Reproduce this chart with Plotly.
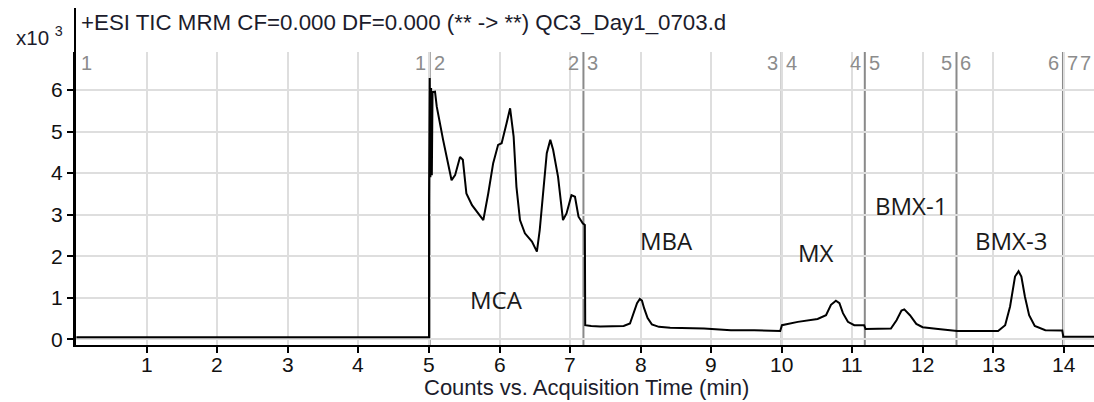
import plotly.graph_objects as go

# ---- data (counts in thousands, time in min) ----
seg1_time = [0.0, 5.0]
seg1_counts = [0.05, 0.05]

seg2_time = [5.0, 5.01, 5.02, 5.03, 5.04, 5.05, 5.085, 5.11, 5.20, 5.25, 5.32, 5.37, 5.44, 5.48,
             5.53, 5.61, 5.70, 5.77, 5.84, 5.91, 5.98, 6.03, 6.10, 6.15, 6.20, 6.24, 6.29, 6.36,
             6.46, 6.53, 6.57, 6.62, 6.67, 6.72, 6.76, 6.83, 6.90, 6.95, 7.02, 7.07, 7.12, 7.18, 7.21]
seg2_counts = [3.35, 6.29, 3.90, 6.05, 3.95, 5.95, 5.96, 5.60, 4.80, 4.40, 3.83, 3.95, 4.39, 4.32,
               3.51, 3.23, 3.03, 2.87, 3.51, 4.24, 4.68, 4.72, 5.20, 5.56, 4.88, 3.67, 2.87, 2.55,
               2.35, 2.11, 2.63, 3.51, 4.48, 4.80, 4.56, 3.91, 2.87, 3.03, 3.47, 3.43, 2.95, 2.79, 2.75]

seg3_time = [7.215, 7.30, 7.43, 7.62, 7.76, 7.85, 7.90, 7.95, 7.99, 8.02, 8.05, 8.10, 8.16, 8.26,
             8.42, 8.90, 9.28, 9.61, 9.98]
seg3_counts = [0.34, 0.32, 0.31, 0.32, 0.32, 0.38, 0.63, 0.87, 0.97, 0.93, 0.75, 0.51, 0.36, 0.30,
               0.28, 0.26, 0.22, 0.22, 0.20]

seg4_time = [10.005, 10.23, 10.51, 10.63, 10.70, 10.77, 10.82, 10.87, 10.94, 11.03, 11.17]
seg4_counts = [0.34, 0.42, 0.49, 0.58, 0.83, 0.93, 0.87, 0.63, 0.42, 0.34, 0.34]

seg5_time = [11.19, 11.55, 11.63, 11.70, 11.74, 11.82, 11.91, 12.00, 12.22, 12.47]
seg5_counts = [0.25, 0.26, 0.46, 0.69, 0.72, 0.58, 0.37, 0.29, 0.25, 0.22]

seg6_time = [12.49, 13.07, 13.17, 13.24, 13.31, 13.36, 13.40, 13.45, 13.51, 13.59, 13.74, 13.98]
seg6_counts = [0.20, 0.20, 0.34, 0.79, 1.51, 1.64, 1.51, 1.03, 0.58, 0.32, 0.22, 0.21]

seg7_time = [13.995, 14.45]
seg7_counts = [0.06, 0.06]

segment_bounds = [5.01, 7.19, 10.0, 11.18, 12.48, 13.99]
segment_numbers = [1, 2, 3, 4, 5, 6, 7]

compound_names = ["MCA", "MBA", "MX", "BMX-1", "BMX-3"]
compound_time = [5.95, 8.37, 10.49, 11.83, 13.25]
compound_level = [0.95, 2.37, 2.08, 3.21, 2.37]

x_ticks = list(range(1, 15))
y_ticks = list(range(0, 7))

title_text = "+ESI TIC MRM CF=0.000 DF=0.000 (** -> **) QC3_Day1_0703.d"
x_title = "Counts vs. Acquisition Time (min)"

# ---- figure ----
time = seg1_time + seg2_time + seg3_time + seg4_time + seg5_time + seg6_time + seg7_time
counts = seg1_counts + seg2_counts + seg3_counts + seg4_counts + seg5_counts + seg6_counts + seg7_counts

W, H = 1094, 402
ml, mr, mt, mb = 75, 0, 52, 57
ph = H - mt - mb

fig = go.Figure()
fig.add_trace(go.Scatter(x=time, y=counts, mode="lines",
                         line=dict(color="black", width=2), hoverinfo="skip"))

shapes = []
for b in segment_bounds:
    shapes.append(dict(type="line", xref="x", yref="paper", x0=b, x1=b, y0=0, y1=1,
                       line=dict(color="#8a8a8a", width=2), layer="between"))
# y axis line extension up to the title line
shapes.append(dict(type="line", xref="paper", yref="paper", x0=0, x1=0, y0=0,
                   y1=(H - mb - 8) / ph, line=dict(color="black", width=2)))

ann = []
seg_font = dict(family="Liberation Sans", size=20, color="#8c8c8c")
label_y = (H - mb - 63) / ph
ann.append(dict(xref="paper", yref="paper", x=0, y=label_y, text=str(segment_numbers[0]),
                showarrow=False, xanchor="left", yanchor="middle", xshift=4, font=seg_font))
for i, b in enumerate(segment_bounds):
    ann.append(dict(xref="x", yref="paper", x=b, y=label_y, text=str(segment_numbers[i]),
                    showarrow=False, xanchor="right", yanchor="middle", xshift=-2, font=seg_font))
    ann.append(dict(xref="x", yref="paper", x=b, y=label_y, text=str(segment_numbers[i + 1]),
                    showarrow=False, xanchor="left", yanchor="middle", xshift=2, font=seg_font))
ann.append(dict(xref="paper", yref="paper", x=1, y=label_y, text=str(segment_numbers[-1]),
                showarrow=False, xanchor="right", yanchor="middle", xshift=-1, font=seg_font))

for name, t, v in zip(compound_names, compound_time, compound_level):
    ann.append(dict(xref="x", yref="y", x=t, y=v, text=name, showarrow=False,
                    xanchor="center", yanchor="middle",
                    font=dict(family="Open Sans", size=24, color="#1a1a1a")))

axis_font = dict(family="Liberation Sans", size=21, color="#111111")
# x tick labels placed just under the tick marks
for t in x_ticks:
    ann.append(dict(xref="x", yref="paper", x=t, y=(H - mb - 364) / ph, text=str(t),
                    showarrow=False, xanchor="center", yanchor="middle", borderpad=0,
                    font=axis_font))

ann.append(dict(xref="paper", yref="paper", x=(79 - ml) / (W - ml), y=(H - mb - 22) / ph,
                text=title_text, showarrow=False, xanchor="left", yanchor="middle",
                font=dict(family="Liberation Sans", size=22.3, color="#1c1c2c")))
ann.append(dict(xref="paper", yref="paper", x=(65 - ml) / (W - ml), y=(H - mb - 36) / ph,
                text="x10 <sup>3</sup>", showarrow=False, xanchor="right", yanchor="middle",
                font=dict(family="Liberation Sans", size=20.5, color="#1c1c2c")))
ann.append(dict(xref="paper", yref="paper", x=(586 - ml) / (W - ml), y=(H - mb - 387) / ph,
                text=x_title, showarrow=False, xanchor="center", yanchor="middle", borderpad=0,
                font=dict(family="Liberation Sans", size=22, color="#1c1c2c")))

fig.update_layout(
    width=W, height=H, margin=dict(l=ml, r=mr, t=mt, b=mb, pad=0),
    paper_bgcolor="white", plot_bgcolor="white", showlegend=False,
    shapes=shapes, annotations=ann,
    xaxis=dict(range=[-0.02, 14.43], tickvals=x_ticks, showticklabels=False,
               showgrid=True, gridcolor="#dedede", gridwidth=2, zeroline=False,
               showline=True, linecolor="black", linewidth=2,
               ticks="outside", ticklen=6, tickwidth=2, tickcolor="black"),
    yaxis=dict(range=[-0.137, 6.915], tickvals=y_ticks, ticktext=[str(v) for v in y_ticks],
               showgrid=True, gridcolor="#dedede", gridwidth=2, zeroline=False,
               showline=True, linecolor="black", linewidth=2,
               ticks="outside", ticklen=6, tickwidth=2, tickcolor="black",
               tickfont=axis_font),
)

fig.write_html("out.html")
